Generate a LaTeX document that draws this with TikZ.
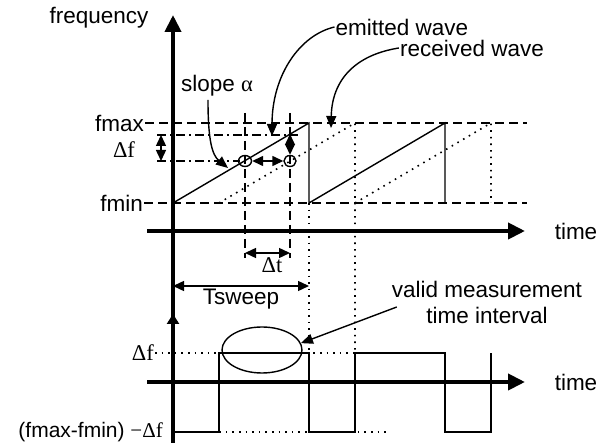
\documentclass[tikz,border=0pt]{standalone}
\usepackage{fontspec}
\setmainfont{Liberation Sans}
\newfontfamily\serif{Liberation Serif}
\usetikzlibrary{arrows.meta,shapes.geometric}

\begin{document}
\begin{tikzpicture}[x=1pt, y=-1pt,
  font=\fontsize{22.5}{26}\selectfont,
  axis/.style={line width=4pt, -{Triangle[length=17pt, width=16pt]}},
  wave/.style={line width=1.4pt},
  level/.style={wave, dash pattern=on 9pt off 5pt},
  dashdot/.style={wave, dash pattern=on 9pt off 4pt on 2pt off 4pt},
  dotline/.style={line width=1.6pt, dash pattern=on 1.6pt off 5pt},
  arr/.style={wave, -{Triangle[length=12pt, width=10pt]}},
  dim/.style={wave, {Triangle[length=11pt, width=10pt]}-{Triangle[length=11pt, width=10pt]}},
  lbl/.style={inner sep=1pt},
  ring/.style={draw, wave, ellipse, inner sep=0pt}]
\useasboundingbox (0,0) rectangle (598,443);
% labels of the upper plot
\node[lbl] (freq) at (99,18) {frequency};
\node[lbl, anchor=east] (fmax) at (145,123) {fmax};
\node[lbl, anchor=east] (fmin) at (144,203) {fmin};
\node[lbl] (df) at (124,150) {\serif Δf};
\node[lbl] (slope) at (217,86) {slope {\serif α}};
\node[lbl] (emit) at (402,27) {emitted wave};
\node[lbl] (recv) at (472,48) {received wave};
\node[lbl] (time1) at (576,231) {time};
\node[lbl] (dt) at (272,265) {\serif Δt};
\node[lbl] (tsw) at (241,299) {Tsweep};
% labels of the lower plot
\node[lbl] (time2) at (576,382) {time};
\node[lbl, anchor=east] (dfl) at (155,353) {\serif Δf};
\node[lbl, anchor=east, font=\fontsize{21}{25}\selectfont] (diff) at (164,432) {(fmax-fmin) {\serif −Δf}};
\node[lbl, align=center] (vt) at (487,302) {valid measurement\\time interval};
\node[ring, minimum width=80pt, minimum height=46pt] (valid) at (262,350) {};
% levels
\draw[level] (fmax.east) -- (527,123);
\draw[level] (fmin.east) -- (527,203);
\draw[dashdot] (157,135) -- (298,135);
\draw[dashdot] (157,161) -- (240,161);
\draw[level] (245,113) -- (245,258);
\draw[level] (290,113) -- (290,258);
% emitted and received waves
\draw[wave] (173,203) -- (309,123) -- (309,203) -- (445,123) -- (445,203);
\draw[dotline] (219,203) -- (355,123) -- (355,353);
\draw[dotline] (355,203) -- (491,123) -- (491,203);
\draw[dotline] (309,203) -- (309,353);
% measurement points
\node[ring, minimum width=13pt, minimum height=11pt] (c1) at (245,161) {};
\node[ring, minimum width=12pt, minimum height=11pt] (c2) at (290,161) {};
\coordinate (e1) at (290,134);
\coordinate (hi) at (161,135);
\coordinate (lo) at (161,161);
\draw[dim] (c1) -- (c2);
\draw[dim] (e1) -- (c2);
\draw[dim] (hi) -- (lo);
\draw[dim] (245,253) -- (290,253);
\draw[dim] (173,286) -- (309,286);
% pointers
\draw[arr] (208,100) .. controls (208,140) and (212,155) .. (228,168);
\draw[arr] (emit.west) .. controls (300,35) and (272,75) .. (272,136);
\draw[arr] (recv.west) .. controls (355,55) and (332,80) .. (331,128);
\draw[arr] ([shift={(6,5)}]vt.west) -- (valid.10);
% lower plot
\draw[dotline] (dfl.east) -- (370,353);
\draw[dotline] (173,432) -- (388,432);
\draw[wave] (173,432) -- (219,432) -- (219,353) -- (309,353) -- (309,432)
  -- (355,432) -- (355,353) -- (445,353) -- (445,432) -- (491,432) -- (491,353);
% axes
\draw[axis] (147,231) -- (525,231);
\draw[axis] (147,382) -- (525,382);
\draw[axis] (173,443) -- (173,15);
\draw[line width=4pt, -{Triangle[length=10pt, width=12pt]}] (173,340) -- (173,314);
\end{tikzpicture}
\end{document}
